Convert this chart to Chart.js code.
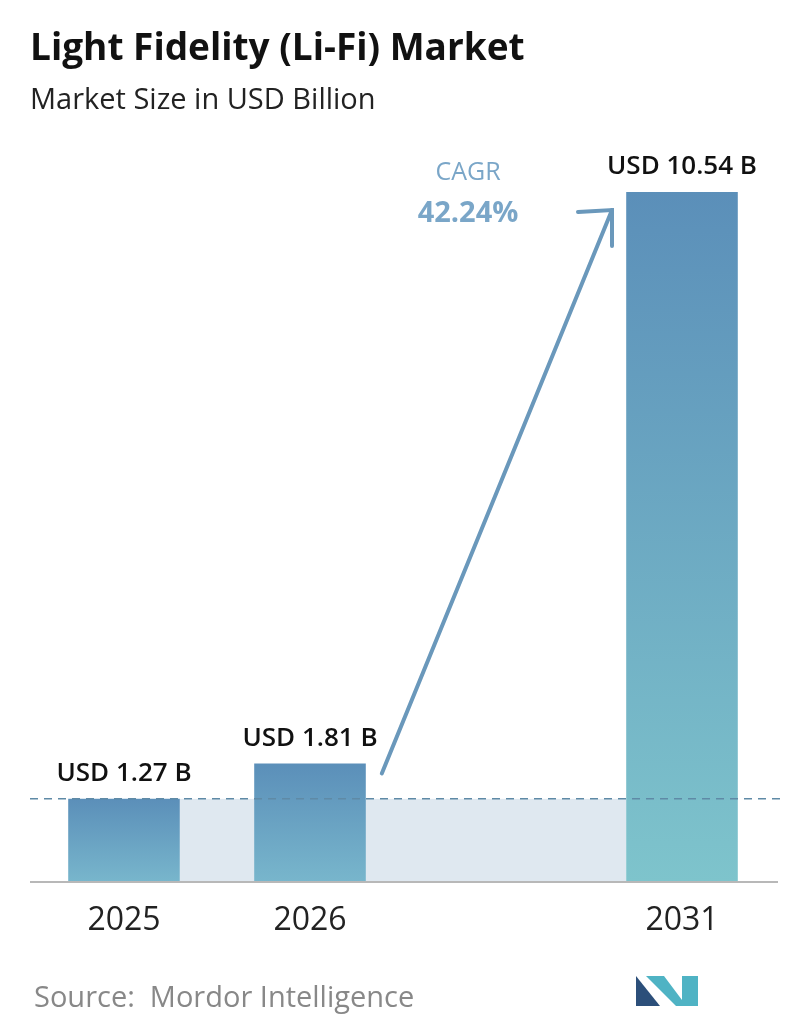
<!DOCTYPE html>
<html>
<head>
<meta charset="utf-8">
<script src="https://cdn.jsdelivr.net/npm/chart.js@4.4.1/dist/chart.umd.min.js"></script>
<style>
html,body{margin:0;padding:0;background:#fff;}
#wrap{width:796px;height:1034px;position:relative;}
</style>
</head>
<body>
<div id="wrap"><canvas id="liFiChart"></canvas></div>
<script>
const years = ['2025', '2026', '', '2031'];
const marketSize = [1.27, 1.81, null, 10.54];
const valueLabels = ['USD 1.27 B', 'USD 1.81 B', '', 'USD 10.54 B'];
const cagrText = '42.24%';

const font = '"Open Sans", "Noto Sans", sans-serif';

// background band, dashed line, arrow, texts
const decor = {
  id: 'decor',
  beforeDatasetsDraw(chart) {
    const {ctx, chartArea: a, scales: {y}} = chart;
    const meta = chart.getDatasetMeta(0);
    const b0 = meta.data[0], b3 = meta.data[3];
    const yLow = y.getPixelForValue(marketSize[0]);
    ctx.save();
    ctx.fillStyle = '#dfe8f0';
    ctx.fillRect(b0.x + b0.width / 2, yLow, (b3.x - b3.width / 2) - (b0.x + b0.width / 2), a.bottom - yLow);
    ctx.restore();
  },
  afterDatasetsDraw(chart) {
    const {ctx, chartArea: a, scales: {y}} = chart;
    const meta = chart.getDatasetMeta(0);
    const yLow = y.getPixelForValue(marketSize[0]);
    ctx.save();
    ctx.strokeStyle = '#5f8aa6';
    ctx.lineWidth = 1.5;
    ctx.setLineDash([8, 6]);
    ctx.beginPath(); ctx.moveTo(30, yLow); ctx.lineTo(782, yLow); ctx.stroke();
    ctx.setLineDash([]);
    ctx.strokeStyle = '#b8b8b8'; ctx.lineWidth = 2;
    ctx.beginPath(); ctx.moveTo(30, a.bottom); ctx.lineTo(778, a.bottom); ctx.stroke();

    // value labels
    ctx.fillStyle = '#111';
    ctx.font = '600 26px ' + font;
    ctx.textAlign = 'center'; ctx.textBaseline = 'bottom';
    meta.data.forEach((bar, i) => {
      if (!valueLabels[i]) return;
      ctx.fillText(valueLabels[i], bar.x, bar.y - 12);
    });

    // arrow
    const b1 = meta.data[1];
    const x1 = b1.x + b1.width / 2 + 16, y1 = b1.y + 10;
    const x2 = 612, y2 = 210;
    ctx.strokeStyle = '#6a98bb'; ctx.lineWidth = 4; ctx.lineCap = 'round';
    ctx.beginPath(); ctx.moveTo(x1, y1); ctx.lineTo(x2, y2); ctx.stroke();
    ctx.beginPath(); ctx.moveTo(578, 212); ctx.lineTo(x2, y2); ctx.lineTo(612, 246); ctx.stroke();

    ctx.textAlign = 'center'; ctx.textBaseline = 'alphabetic';
    ctx.fillStyle = '#7aa6c8';
    ctx.font = '25px ' + font;
    ctx.fillText('CAGR', 468, 180);
    ctx.font = '700 29px ' + font;
    ctx.fillText(cagrText, 468, 222);

    // title block
    ctx.textAlign = 'left';
    ctx.fillStyle = '#111';
    ctx.font = '700 37px ' + font;
    ctx.fillText('Light Fidelity (Li-Fi) Market', 30, 60);
    ctx.fillStyle = '#222';
    ctx.font = '29px ' + font;
    ctx.fillText('Market Size in USD Billion', 30, 109);
    ctx.fillStyle = '#888';
    ctx.font = '29px ' + font;
    ctx.fillText('Source:  Mordor Intelligence', 34, 1007);

    // logo
    ctx.fillStyle = '#2c4f7a';
    ctx.beginPath(); ctx.moveTo(636, 1006); ctx.lineTo(636, 976); ctx.lineTo(660, 1006); ctx.closePath(); ctx.fill();
    ctx.fillStyle = '#4fb3c4';
    ctx.beginPath(); ctx.moveTo(646, 976); ctx.lineTo(664, 976); ctx.lineTo(682, 1000); ctx.lineTo(682, 976); ctx.lineTo(698, 976); ctx.lineTo(698, 1006); ctx.lineTo(676, 1006); ctx.closePath(); ctx.fill();
    ctx.restore();
  }
};

new Chart(document.getElementById('liFiChart'), {
  type: 'bar',
  data: {
    labels: years,
    datasets: [{
      data: marketSize,
      backgroundColor(c) {
        const a = c.chart.chartArea;
        if (!a || c.raw == null) return '#6aa0c0';
        const top = c.chart.scales.y.getPixelForValue(c.raw);
        const g = c.chart.ctx.createLinearGradient(0, top, 0, a.bottom);
        const tall = c.raw > 5;
        g.addColorStop(0, '#5b8fb9');
        g.addColorStop(1, tall ? '#7ec4cc' : '#78b6cc');
        return g;
      },
      barPercentage: 0.6,
      categoryPercentage: 1
    }]
  },
  options: {
    responsive: true,
    maintainAspectRatio: false,
    animation: false,
    layout: {padding: {top: 192, left: 31, right: 21, bottom: 0}},
    plugins: {legend: {display: false}, tooltip: {enabled: false}},
    scales: {
      y: {display: false, min: 0, max: 10.54},
      x: {
        grid: {display: false},
        border: {display: false},
        ticks: {color: '#222', font: {size: 32, family: font}, padding: 12},
        afterFit(s) { s.height = 152; }
      }
    }
  },
  plugins: [decor]
});
</script>
</body>
</html>
